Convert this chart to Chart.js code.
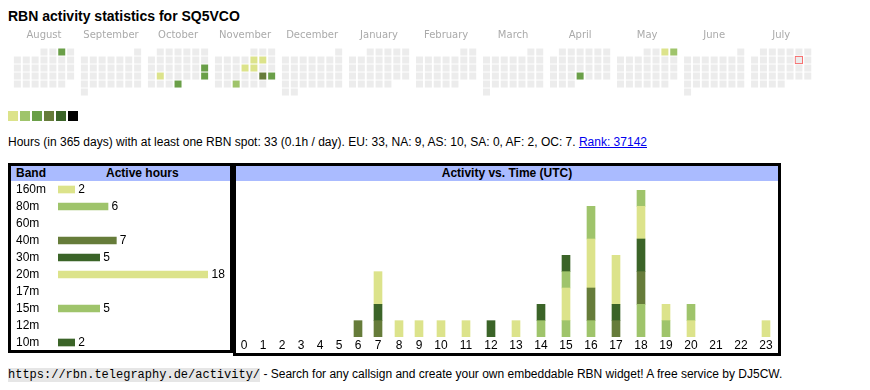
<!DOCTYPE html>
<html>
<head>
<meta charset="utf-8">
<script src="https://cdn.jsdelivr.net/npm/chart.js@4/dist/chart.umd.min.js"></script>
<style>
  body { margin: 0; background: #fff; color: #000; font-family: Arial, "Liberation Sans", sans-serif; }
  .abs { position: absolute; white-space: nowrap; }
  #title { left: 8px; top: 8px; font-size: 14px; font-weight: bold; line-height: 16px; }
  .sw { position: absolute; top: 111px; width: 10px; height: 10px; }
  #info { left: 8px; top: 135px; font-size: 12px; line-height: 14px; }
  #info a { color: #0000ee; }
  .box { position: absolute; border: 3px solid #000; box-sizing: border-box; }
  .head { position: absolute; left: 0; right: 0; top: 0; height: 15px; background: #aabbff;
          font-weight: bold; font-size: 12px; line-height: 15px; }
  .head span { position: absolute; top: 0; }
  #foot { left: 8px; top: 367px; font-size: 12px; line-height: 14px; }
  #foot code { font-family: "Liberation Mono", monospace; font-size: 12px; background: #e6e6e6; }
  canvas { position: absolute; }
</style>
</head>
<body>
<div id="title" class="abs">RBN activity statistics for SQ5VCO</div>
<canvas id="calendar" style="left:7px; top:24px;" width="823" height="78"></canvas>
<div id="swatches"></div>
<div id="info" class="abs">Hours (in 365 days) with at least one RBN spot: 33 (0.1h / day). EU: 33, NA: 9, AS: 10, SA: 0, AF: 2, OC: 7. <a href="#">Rank: 37142</a></div>

<div class="box" style="left:8px; top:163px; width:225px; height:190px;">
  <div class="head"><span style="left:5px;">Band</span><span style="left:95px;">Active hours</span></div>
</div>
<div class="box" style="left:233px; top:163px; width:548px; height:193px;">
  <div class="head" style="text-align:center;">Activity vs. Time (UTC)</div>
</div>
<canvas id="bands" style="left:11px; top:181px;" width="219" height="170"></canvas>
<canvas id="hours" style="left:234px; top:181px;" width="545" height="172"></canvas>

<div id="foot" class="abs"><code>https://rbn.telegraphy.de/activity/</code> - Search for any callsign and create your own embeddable RBN widget! A free service by DJ5CW.</div>

<script>
// calendar: Aug 2024 .. Jul 2025
const months = ['August', 'September', 'October', 'November', 'December', 'January',
                'February', 'March', 'April', 'May', 'June', 'July'];
const activeDays = ['2024-08-03', '2024-10-20', '2024-10-22', '2024-10-27', '2024-10-31',
                    '2024-11-08', '2024-11-09', '2024-11-14', '2024-11-15', '2024-11-23',
                    '2024-11-24', '2024-11-27', '2025-04-24', '2025-05-03', '2025-05-04'];
const dayLevels = [3, 3, 1, 3, 3, 1, 1, 1, 1, 4, 3, 2, 3, 1, 2];
const today = '2025-07-12';
const levelColors = ['#dce38b', '#9fc46b', '#6a9f48', '#667c3a', '#3b6428', '#000000'];
const emptyColor = '#ececec';

// bands
const bands = ['160m', '80m', '60m', '40m', '30m', '20m', '17m', '15m', '12m', '10m'];
const bandHours = [2, 6, 0, 7, 5, 18, 0, 5, 0, 2];
const bandColors = ['#dce38b', '#9fc46b', '#6a9f48', '#667c3a', '#3b6428',
                    '#dce38b', '#9fc46b', '#9fc46b', '#667c3a', '#3b6428'];

// activity per UTC hour, per band
const hourLabels = ['0', '1', '2', '3', '4', '5', '6', '7', '8', '9', '10', '11',
                    '12', '13', '14', '15', '16', '17', '18', '19', '20', '21', '22', '23'];
const hours160 = [0,0,0,0,0,0,0,0,0,0,0,0,0,0,0,0,0,0,0,0,1,0,0,1];
const hours80  = [0,0,0,0,0,0,0,0,0,0,0,0,0,0,1,1,1,0,2,1,0,0,0,0];
const hours40  = [0,0,0,0,0,0,1,1,0,0,0,0,0,0,0,0,2,1,2,0,0,0,0,0];
const hours30  = [0,0,0,0,0,0,0,1,0,0,0,0,1,0,0,0,0,1,2,0,0,0,0,0];
const hours20  = [0,0,0,0,0,0,0,2,1,1,1,1,0,1,0,2,3,3,2,1,0,0,0,0];
const hours15  = [0,0,0,0,0,0,0,0,0,0,0,0,0,0,0,1,2,0,1,0,1,0,0,0];
const hours10  = [0,0,0,0,0,0,0,0,0,0,0,0,0,0,1,1,0,0,0,0,0,0,0,0];

const FONT = 'Arial, "Liberation Sans", sans-serif';
Chart.defaults.font.family = FONT;
Chart.defaults.color = '#000';
Chart.defaults.animation = false;

// ---- calendar ----
const CELL = 9;              // cell pitch in px
const MONTH_SPAN = 68 / CELL; // month block pitch in cell units
const pad2 = n => String(n).padStart(2, '0');

const cells = [], cellColors = [];
let todayCell = null;
months.forEach((name, m) => {
  const year = 2024 + (m >= 5 ? 1 : 0);
  const mon = (7 + m) % 12;
  const nDays = new Date(Date.UTC(year, mon + 1, 0)).getUTCDate();
  const firstDow = (new Date(Date.UTC(year, mon, 1)).getUTCDay() + 6) % 7;
  for (let d = 1; d <= nDays; d++) {
    const pos = firstDow + d - 1;
    const pt = { x: m * MONTH_SPAN + pos % 7, y: Math.floor(pos / 7) };
    const key = year + '-' + pad2(mon + 1) + '-' + pad2(d);
    const k = activeDays.indexOf(key);
    cells.push(pt);
    cellColors.push(k >= 0 ? levelColors[dayLevels[k] - 1] : emptyColor);
    if (key === today) todayCell = pt;
  }
});

const calCanvas = document.getElementById('calendar');
new Chart(calCanvas, {
  type: 'scatter',
  data: {
    datasets: [
      { data: cells, backgroundColor: cellColors, pointStyle: 'rect',
        radius: 7 / Math.SQRT2, borderWidth: 0, hoverRadius: 7 / Math.SQRT2 },
      { data: [todayCell], backgroundColor: '#fff', borderColor: '#ff0000', borderWidth: 1,
        pointStyle: 'rect', radius: 7 / Math.SQRT2 }
    ]
  },
  options: {
    responsive: false,
    events: [],
    plugins: { legend: { display: false }, tooltip: { enabled: false } },
    scales: {
      x: {
        type: 'linear', position: 'top',
        min: -0.5, max: -0.5 + calCanvas.width / CELL,
        grid: { display: false, drawTicks: false }, border: { display: false },
        ticks: { color: '#aaa', font: { family: '"DejaVu Sans"', size: 10 }, padding: 7,
                 autoSkip: false, maxRotation: 0,
                 callback: (v, i) => months[i] },
        afterBuildTicks: s => { s.ticks = months.map((_, m) => ({ value: m * MONTH_SPAN + 3 })); },
        afterFit: s => { s.height = 24; }
      },
      y: { type: 'linear', display: false, reverse: true, min: -0.5, max: 5.5 }
    }
  }
});

// legend swatches
const sw = document.getElementById('swatches');
levelColors.forEach((c, i) => {
  const d = document.createElement('div');
  d.className = 'sw';
  d.style.left = (8 + i * 12) + 'px';
  d.style.background = c;
  sw.appendChild(d);
});

// ---- active hours per band ----
const valueLabels = {
  id: 'valueLabels',
  afterDatasetsDraw(chart) {
    const ctx = chart.ctx;
    ctx.save();
    ctx.font = '12px ' + FONT;
    ctx.fillStyle = '#000';
    ctx.textBaseline = 'middle';
    chart.getDatasetMeta(0).data.forEach((bar, i) => {
      if (bandHours[i] > 0) ctx.fillText(bandHours[i], bar.x + 3.5, bar.y + 0.5);
    });
    ctx.restore();
  }
};

new Chart(document.getElementById('bands'), {
  type: 'bar',
  data: {
    labels: bands,
    datasets: [{ data: bandHours.map(v => v || null), backgroundColor: bandColors, barThickness: 7 }]
  },
  options: {
    indexAxis: 'y',
    responsive: false,
    events: [],
    layout: { padding: { left: 5, right: 22 } },
    plugins: { legend: { display: false }, tooltip: { enabled: false } },
    scales: {
      y: {
        grid: { display: false, drawTicks: false }, border: { display: false },
        ticks: { crossAlign: 'far', padding: 0, autoSkip: false, font: { size: 12 } },
        afterFit: s => { s.width = 42; s.paddingTop = 0; s.paddingBottom = 0; }
      },
      x: { display: false, min: 0, max: Math.max(...bandHours) }
    }
  },
  plugins: [valueLabels]
});

// ---- activity vs. time ----
// columns are as wide as the original table cells, which follow the label width
const meas = document.createElement('canvas').getContext('2d');
meas.font = '12px ' + FONT;
const BAR_W = 8;
const perHour = [hours160, hours80, hours40, hours30, hours20, hours15, hours10];
const stackBands = ['160m', '80m', '40m', '30m', '20m', '15m', '10m'];
const totals = hourLabels.map((_, i) => perHour.reduce((s, a) => s + a[i], 0));
let cum = 0;
const centers = hourLabels.map((lab, i) => {
  const content = Math.max(meas.measureText(lab).width, totals[i] > 0 ? BAR_W : 0);
  const w = 13 + 0.9 * content;
  const c = Math.round(cum + w / 2);
  cum += w;
  return c;
});

const hoursCanvas = document.getElementById('hours');
new Chart(hoursCanvas, {
  type: 'bar',
  data: {
    datasets: perHour.map((arr, k) => ({
      label: stackBands[k],
      data: arr.map((v, i) => ({ x: centers[i], y: v })).filter(p => p.y > 0),
      backgroundColor: bandColors[bands.indexOf(stackBands[k])],
      barThickness: BAR_W
    }))
  },
  options: {
    responsive: false,
    events: [],
    layout: { padding: { top: 9 } },
    plugins: { legend: { display: false }, tooltip: { enabled: false } },
    scales: {
      x: {
        type: 'linear', stacked: true, offset: false,
        min: 0, max: hoursCanvas.width,
        grid: { display: false, drawTicks: false }, border: { display: false },
        ticks: { padding: 1, font: { size: 12 }, autoSkip: false, maxRotation: 0,
                 callback: (v, i) => hourLabels[i] },
        afterBuildTicks: s => { s.ticks = centers.map(c => ({ value: c })); },
        afterFit: s => { s.height = 16; }
      },
      y: { display: false, stacked: true, min: 0, max: Math.max(...totals) }
    }
  }
});
</script>
</body>
</html>
